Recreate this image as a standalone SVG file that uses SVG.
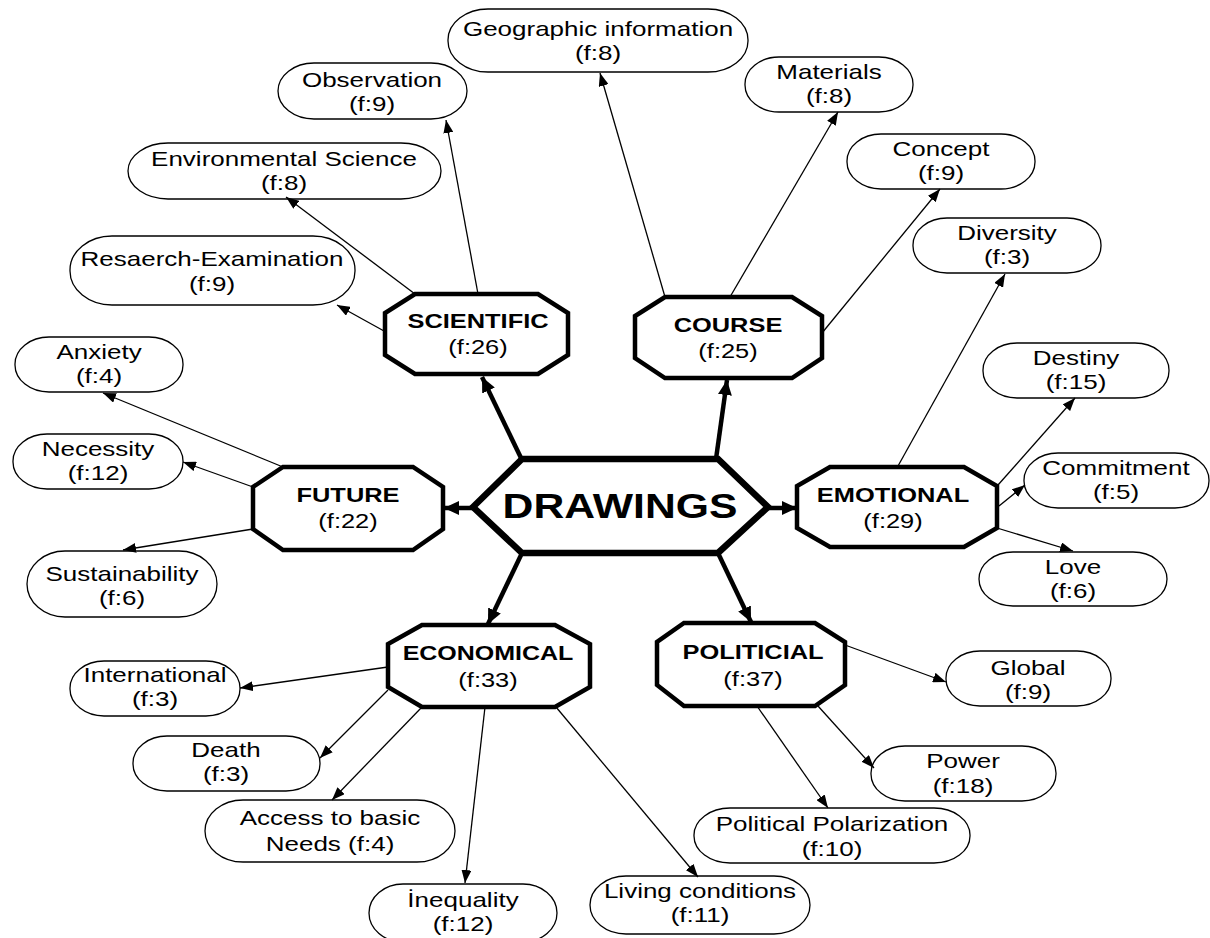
<svg xmlns="http://www.w3.org/2000/svg" width="1210" height="938" viewBox="0 0 1210 938">
<style>
text{font-family:"Liberation Sans",Arial,sans-serif;fill:#000;text-anchor:middle}
.lt{font-size:20px}
.ct{font-size:20px;font-weight:bold}
.cf{font-size:20px}
.leaf rect{fill:#fff;stroke:#000;stroke-width:1.3}
.cat polygon{fill:#fff;stroke:#000;stroke-width:4.5;stroke-linejoin:miter}
.hub polygon{fill:#fff;stroke:#000;stroke-width:6.5}
.thin{stroke:#000;stroke-width:1.3;fill:none;marker-end:url(#ah)}
.thick{stroke:#000;stroke-width:4.5;fill:none;marker-end:url(#AH)}
</style>
<defs>
<marker id="ah" markerUnits="userSpaceOnUse" markerWidth="14" markerHeight="10" refX="13" refY="5" orient="auto"><path d="M0,0 L13,5 L0,10 z" fill="#000"/></marker>
<marker id="AH" markerUnits="userSpaceOnUse" markerWidth="16" markerHeight="14" refX="15" refY="7" orient="auto"><path d="M0,0 L15,7 L0,14 z" fill="#000"/></marker>
</defs>
<rect width="1210" height="938" fill="#fff"/>

<g id="hub" class="hub">
<polygon points="473,507 522,459 718,459 768,507 718,553 522,553"/>
<text transform="translate(620,518) scale(1.22,1)" style="font-size:35px;font-weight:bold">DRAWINGS</text>
</g>

<g id="cat-scientific" class="cat">
<polygon points="415,294 538,294 568,313 568,355 538,374 415,374 385,355 385,313"/>
<text class="ct" transform="translate(478,328) scale(1.27,1)">SCIENTIFIC</text>
<text class="cf" transform="translate(478,354) scale(1.27,1)">(f:26)</text>
</g>
<g id="cat-course" class="cat">
<polygon points="665,297 792,297 822,316 822,358 792,378 665,378 635,358 635,316"/>
<text class="ct" transform="translate(728,332) scale(1.27,1)">COURSE</text>
<text class="cf" transform="translate(728,358) scale(1.27,1)">(f:25)</text>
</g>
<g id="cat-future" class="cat">
<polygon points="283,467 413,467 443,487 443,529 413,550 283,550 253,529 253,487"/>
<text class="ct" transform="translate(348,502) scale(1.27,1)">FUTURE</text>
<text class="cf" transform="translate(348,528) scale(1.27,1)">(f:22)</text>
</g>
<g id="cat-emotional" class="cat">
<polygon points="830,467 964,467 997,486 997,528 964,547 830,547 797,528 797,486"/>
<text class="ct" transform="translate(893,502) scale(1.27,1)">EMOTIONAL</text>
<text class="cf" transform="translate(893,528) scale(1.27,1)">(f:29)</text>
</g>
<g id="cat-economical" class="cat">
<polygon points="422,625 555,625 590,644 590,687 555,707 422,707 388,687 388,644"/>
<text class="ct" transform="translate(488,660) scale(1.25,1)">ECONOMICAL</text>
<text class="cf" transform="translate(488,687) scale(1.27,1)">(f:33)</text>
</g>
<g id="cat-politicial" class="cat">
<polygon points="684,623 815,623 845,642 845,685 815,706 684,706 657,685 657,642"/>
<text class="ct" transform="translate(753,659) scale(1.27,1)">POLITICIAL</text>
<text class="cf" transform="translate(753,686) scale(1.27,1)">(f:37)</text>
</g>

<g id="leaf-geographic" class="leaf"><rect x="448" y="9" width="300" height="63" rx="40" ry="31"/><text class="lt" transform="translate(598,36) scale(1.3,1)">Geographic information</text><text class="lt" transform="translate(598,60) scale(1.3,1)">(f:8)</text></g>
<g id="leaf-observation" class="leaf"><rect x="278" y="63" width="189" height="56" rx="36" ry="28"/><text class="lt" transform="translate(372,87) scale(1.3,1)">Observation</text><text class="lt" transform="translate(372,111) scale(1.3,1)">(f:9)</text></g>
<g id="leaf-environmental" class="leaf"><rect x="128" y="143" width="313" height="56" rx="40" ry="28"/><text class="lt" transform="translate(284,166) scale(1.3,1)">Environmental Science</text><text class="lt" transform="translate(284,190) scale(1.3,1)">(f:8)</text></g>
<g id="leaf-research" class="leaf"><rect x="70" y="236" width="285" height="69" rx="42" ry="34"/><text class="lt" transform="translate(212,266) scale(1.3,1)">Resaerch-Examination</text><text class="lt" transform="translate(212,291) scale(1.3,1)">(f:9)</text></g>
<g id="leaf-materials" class="leaf"><rect x="745" y="57" width="168" height="55" rx="34" ry="27"/><text class="lt" transform="translate(829,79) scale(1.3,1)">Materials</text><text class="lt" transform="translate(829,103) scale(1.3,1)">(f:8)</text></g>
<g id="leaf-concept" class="leaf"><rect x="847" y="134" width="188" height="55" rx="34" ry="27"/><text class="lt" transform="translate(941,156) scale(1.3,1)">Concept</text><text class="lt" transform="translate(941,180) scale(1.3,1)">(f:9)</text></g>
<g id="leaf-diversity" class="leaf"><rect x="913" y="218" width="188" height="55" rx="34" ry="27"/><text class="lt" transform="translate(1007,240) scale(1.3,1)">Diversity</text><text class="lt" transform="translate(1007,264) scale(1.3,1)">(f:3)</text></g>
<g id="leaf-destiny" class="leaf"><rect x="983" y="343" width="186" height="55" rx="34" ry="27"/><text class="lt" transform="translate(1076,365) scale(1.3,1)">Destiny</text><text class="lt" transform="translate(1076,389) scale(1.3,1)">(f:15)</text></g>
<g id="leaf-commitment" class="leaf"><rect x="1024" y="453" width="185" height="55" rx="34" ry="27"/><text class="lt" transform="translate(1116,475) scale(1.3,1)">Commitment</text><text class="lt" transform="translate(1116,499) scale(1.3,1)">(f:5)</text></g>
<g id="leaf-love" class="leaf"><rect x="979" y="552" width="188" height="54" rx="34" ry="27"/><text class="lt" transform="translate(1073,574) scale(1.3,1)">Love</text><text class="lt" transform="translate(1073,598) scale(1.3,1)">(f:6)</text></g>
<g id="leaf-anxiety" class="leaf"><rect x="15" y="337" width="168" height="55" rx="34" ry="27"/><text class="lt" transform="translate(99,359) scale(1.3,1)">Anxiety</text><text class="lt" transform="translate(99,383) scale(1.3,1)">(f:4)</text></g>
<g id="leaf-necessity" class="leaf"><rect x="13" y="434" width="170" height="55" rx="34" ry="27"/><text class="lt" transform="translate(98,456) scale(1.3,1)">Necessity</text><text class="lt" transform="translate(98,480) scale(1.3,1)">(f:12)</text></g>
<g id="leaf-sustainability" class="leaf"><rect x="27" y="551" width="190" height="66" rx="38" ry="33"/><text class="lt" transform="translate(122,581) scale(1.3,1)">Sustainability</text><text class="lt" transform="translate(122,605) scale(1.3,1)">(f:6)</text></g>
<g id="leaf-international" class="leaf"><rect x="70" y="661" width="170" height="55" rx="34" ry="27"/><text class="lt" transform="translate(155,682) scale(1.3,1)">International</text><text class="lt" transform="translate(155,706) scale(1.3,1)">(f:3)</text></g>
<g id="leaf-death" class="leaf"><rect x="133" y="736" width="187" height="55" rx="34" ry="27"/><text class="lt" transform="translate(226,757) scale(1.3,1)">Death</text><text class="lt" transform="translate(226,781) scale(1.3,1)">(f:3)</text></g>
<g id="leaf-access" class="leaf"><rect x="205" y="800" width="250" height="62" rx="38" ry="31"/><text class="lt" transform="translate(330,825) scale(1.3,1)">Access to basic</text><text class="lt" transform="translate(330,851) scale(1.3,1)">Needs (f:4)</text></g>
<g id="leaf-inequality" class="leaf"><rect x="369" y="884" width="188" height="58" rx="34" ry="29"/><text class="lt" transform="translate(463,907) scale(1.3,1)">İnequality</text><text class="lt" transform="translate(463,931) scale(1.3,1)">(f:12)</text></g>
<g id="leaf-living" class="leaf"><rect x="590" y="876" width="220" height="58" rx="36" ry="29"/><text class="lt" transform="translate(700,898) scale(1.3,1)">Living conditions</text><text class="lt" transform="translate(700,922) scale(1.3,1)">(f:11)</text></g>
<g id="leaf-global" class="leaf"><rect x="946" y="651" width="165" height="55" rx="34" ry="27"/><text class="lt" transform="translate(1028,675) scale(1.3,1)">Global</text><text class="lt" transform="translate(1028,699) scale(1.3,1)">(f:9)</text></g>
<g id="leaf-power" class="leaf"><rect x="871" y="746" width="185" height="55" rx="34" ry="27"/><text class="lt" transform="translate(963,768) scale(1.3,1)">Power</text><text class="lt" transform="translate(963,793) scale(1.3,1)">(f:18)</text></g>
<g id="leaf-polarization" class="leaf"><rect x="694" y="808" width="276" height="55" rx="36" ry="27"/><text class="lt" transform="translate(832,831) scale(1.3,1)">Political Polarization</text><text class="lt" transform="translate(832,856) scale(1.3,1)">(f:10)</text></g>

<g id="connectors">
<line class="thick" x1="522" y1="460" x2="482" y2="377"/>
<line class="thick" x1="716" y1="459" x2="727" y2="380"/>
<line class="thick" x1="473" y1="508" x2="444" y2="508"/>
<line class="thick" x1="768" y1="508" x2="797" y2="508"/>
<line class="thick" x1="522" y1="553" x2="488" y2="624"/>
<line class="thick" x1="718" y1="553" x2="751" y2="622"/>

<line class="thin" x1="384" y1="331" x2="337" y2="305"/>
<line class="thin" x1="415" y1="294" x2="286" y2="197"/>
<line class="thin" x1="478" y1="294" x2="446" y2="120"/>
<line class="thin" x1="665" y1="297" x2="600" y2="73"/>
<line class="thin" x1="730" y1="297" x2="838" y2="112"/>
<line class="thin" x1="822" y1="333" x2="940" y2="189"/>
<line class="thin" x1="898" y1="466" x2="1005" y2="274"/>
<line class="thin" x1="998" y1="485" x2="1075" y2="398"/>
<line class="thin" x1="999" y1="506" x2="1025" y2="485"/>
<line class="thin" x1="997" y1="528" x2="1073" y2="551"/>
<line class="thin" x1="283" y1="467" x2="103" y2="393"/>
<line class="thin" x1="253" y1="487" x2="183" y2="462"/>
<line class="thin" x1="253" y1="529" x2="123" y2="550"/>
<line class="thin" x1="388" y1="667" x2="240" y2="688"/>
<line class="thin" x1="388" y1="690" x2="320" y2="758"/>
<line class="thin" x1="422" y1="707" x2="332" y2="800"/>
<line class="thin" x1="485" y1="707" x2="465" y2="883"/>
<line class="thin" x1="556" y1="707" x2="698" y2="877"/>
<line class="thin" x1="845" y1="645" x2="946" y2="682"/>
<line class="thin" x1="818" y1="706" x2="874" y2="768"/>
<line class="thin" x1="757" y1="706" x2="828" y2="808"/>
</g>
</svg>
